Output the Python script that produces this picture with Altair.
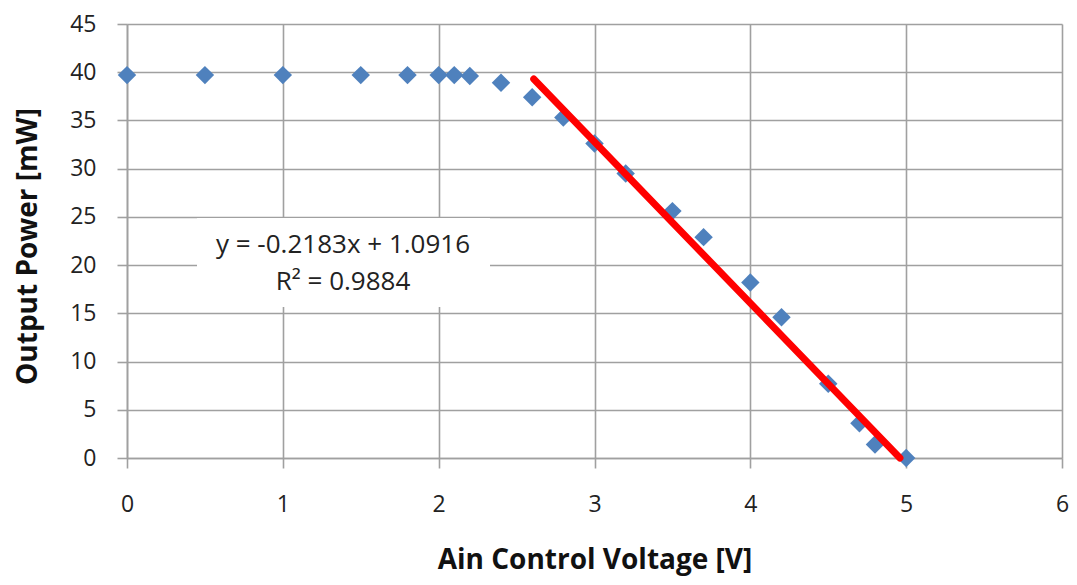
import altair as alt
import pandas as pd

voltage = [0.0, 0.5, 1.0, 1.5, 1.8, 2.0, 2.1, 2.2, 2.4, 2.6, 2.8, 3.0, 3.2, 3.5, 3.7, 4.0, 4.2, 4.5, 4.7, 4.8, 5.0]
power = [39.7, 39.7, 39.7, 39.7, 39.7, 39.7, 39.7, 39.6, 38.9, 37.4, 35.3, 32.6, 29.5, 25.6, 22.9, 18.2, 14.6, 7.7, 3.6, 1.4, 0.0]

# Linear trendline endpoints
trend_x = [2.61, 4.96]
trend_y = [39.3, 0.0]

eq_lines = ["y = -0.2183x + 1.0916", "R\u00b2 = 0.9884"]

x_ticks = [0, 1, 2, 3, 4, 5, 6]
y_ticks = [0, 5, 10, 15, 20, 25, 30, 35, 40, 45]

FONT = "Open Sans"
GRID = "#a0a0a0"
W, H = 935, 434

df = pd.DataFrame({"v": voltage, "p": power})
tdf = pd.DataFrame({"v": trend_x, "p": trend_y})

x_enc = alt.X(
    "v:Q",
    scale=alt.Scale(domain=[0, 6], nice=False, zero=False),
    axis=alt.Axis(
        values=x_ticks, format="d", title="Ain Control Voltage [V]", grid=True,
        tickSize=10, labelPadding=25, labelFlush=False, titleX=W / 2, titleY=110,
        titleBaseline="alphabetic", titleAlign="center",
    ),
)
y_enc = alt.Y(
    "p:Q",
    scale=alt.Scale(domain=[0, 45], nice=False),
    axis=alt.Axis(
        values=y_ticks, format="d", title="Output Power [mW]", grid=True,
        tickSize=10, labelPadding=21, labelFlush=False, titleX=-99, titleY=222,
        titleAngle=-90, titleBaseline="middle", titleAlign="center",
    ),
)

points = alt.Chart(df).mark_point(
    shape="diamond", filled=True, color="#4f81bd", size=340, opacity=1
).encode(x=x_enc, y=y_enc)

trend = alt.Chart(tdf).mark_line(
    color="#ff0000", strokeWidth=7, strokeCap="round"
).encode(x="v:Q", y="p:Q")

one = pd.DataFrame({"a": [0]})
box = alt.Chart(one).mark_rect(color="white", opacity=1).encode(
    x=alt.value(70), x2=alt.value(363), y=alt.value(194), y2=alt.value(283)
)
t1 = alt.Chart(one).mark_text(
    text=eq_lines[0], font=FONT, fontSize=26, color="#222222",
    align="center", baseline="middle"
).encode(x=alt.value(216), y=alt.value(221))
t2 = alt.Chart(one).mark_text(
    text=eq_lines[1], font=FONT, fontSize=26, color="#222222",
    align="center", baseline="middle"
).encode(x=alt.value(216), y=alt.value(258))

chart = alt.layer(points, box, t1, t2, trend).properties(
    width=W, height=H,
    autosize=alt.AutoSizeParams(type="none"),
    padding={"left": 119, "top": 16, "right": 7, "bottom": 119},
).configure_view(stroke=None).configure_axis(
    gridColor=GRID, gridWidth=1.6, domainColor=GRID, domainWidth=1.6,
    tickColor=GRID, tickWidth=1.6,
    labelFont=FONT, labelFontSize=23, labelColor="#222222",
    titleFont=FONT, titleFontSize=28, titleFontWeight="bold", titleColor="#111111",
)

chart.save("out.html", embed_options={"renderer": "svg", "actions": False})
